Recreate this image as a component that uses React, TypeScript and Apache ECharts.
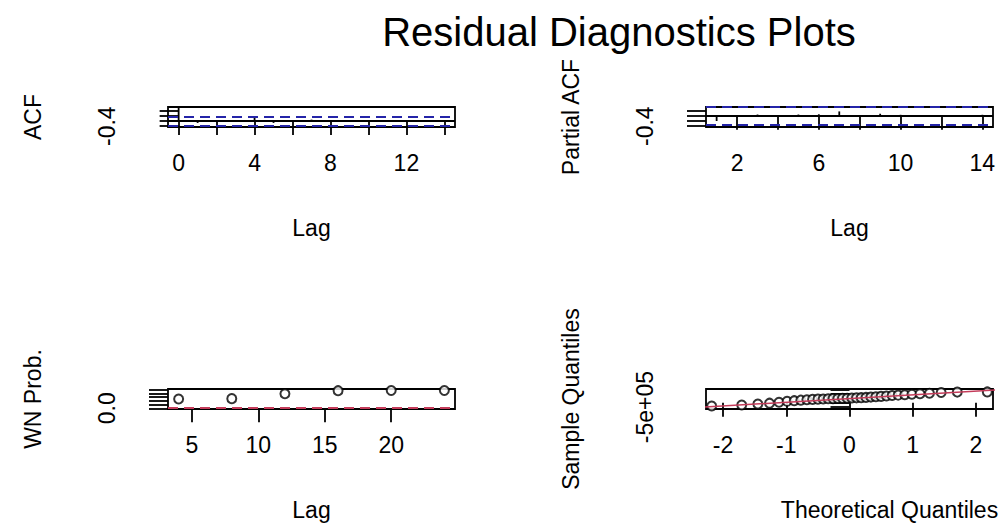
import { useEffect, useRef } from "react";
import * as echarts from "echarts";

// ---- ACF of residuals ----
const acfLags = [0, 1, 2, 3, 4, 5, 6, 7, 8, 9, 10, 11, 12, 13, 14];
const acfValues = [1, -0.15, -0.05, 0.03, 0.28, -0.15, 0.05, 0.1, 0.04, -0.03, 0.03, -0.02, 0.04, -0.03, 0.02];
const acfXTicks = [0, 2, 4, 6, 8, 10, 12, 14];
const acfXLabels = [0, 4, 8, 12];
const acfYTicks = [-0.4, 0, 0.4, 0.8];
const acfYLabels = [-0.4];
const acfXRange = [-0.56, 14.56];
const acfYRange = [-0.46, 1.06];

// ---- Partial ACF of residuals ----
const pacfLags = [1, 2, 3, 4, 5, 6, 7, 8, 9, 10, 11, 12, 13, 14];
const pacfValues = [-0.2, -0.05, 0.05, 0.02, 0.05, 0.06, 0.17, -0.03, 0.08, 0.04, -0.04, -0.02, -0.03, 0.04];
const pacfXTicks = [2, 4, 6, 8, 10, 12, 14];
const pacfXLabels = [2, 6, 10, 14];
const pacfYTicks = [-0.4, -0.2, 0, 0.2];
const pacfYLabels = [-0.4];
const pacfXRange = [0.48, 14.52];
const pacfYRange = [-0.43, 0.34];

// 95% white-noise band, 1.96 / sqrt(n)
const confidenceBound = 0.336;

// ---- Ljung-Box p-values ----
const lbLags = [4, 8, 12, 16, 20, 24];
const lbPValues = [0.5, 0.52, 0.78, 0.95, 0.96, 0.96];
const pValueThreshold = 0.05;
const lbXTicks = [5, 10, 15, 20];
const lbYTicks = [0, 0.2, 0.4, 0.6, 0.8, 1.0];
const lbYLabels = [0];
const lbXRange = [3.2, 24.8];
const lbYRange = [-0.04, 1.04];

// ---- Normal Q-Q ----
const theoreticalQuantiles = [
  -2.18, -1.705, -1.45, -1.265, -1.115, -0.987, -0.874, -0.77, -0.674, -0.584, -0.499, -0.417,
  -0.338, -0.261, -0.185, -0.111, -0.037, 0.037, 0.111, 0.185, 0.261, 0.338, 0.417, 0.499, 0.584,
  0.674, 0.77, 0.874, 0.987, 1.115, 1.265, 1.45, 1.705, 2.18,
];
const sampleQuantiles = [
  -380000, -260000, -150000, -50000, 60000, 160000, 240000, 300000, 350000, 390000, 420000, 440000,
  460000, 480000, 500000, 510000, 530000, 550000, 570000, 590000, 620000, 660000, 700000, 740000,
  790000, 840000, 890000, 940000, 990000, 1050000, 1110000, 1190000, 1240000, 1260000,
];
const qqLineIntercept = 490000;
const qqLineSlope = 436000;
const qqXTicks = [-2, -1, 0, 1, 2];
const qqYTicks = [-500000, 0, 500000, 1000000, 1500000];
const qqYLabels = [-500000];
const qqXRange = [-2.27, 2.27];
const qqYRange = [-730000, 1600000];

const FONT = "'Liberation Sans', Arial, sans-serif";
const BLUE = "#2424a8";
const RED = "#c43c5a";
const INK = "#000";
const LW = 1.8;

const panels = [
  { left: 168, top: 107 },
  { left: 706, top: 107 },
  { left: 168, top: 389 },
  { left: 706, top: 389 },
];

function fmtR(v: number): string {
  if (Math.abs(v) >= 100000) {
    const exp = Math.floor(Math.log10(Math.abs(v)));
    const mant = v / Math.pow(10, exp);
    return `${mant}e+${String(exp).padStart(2, "0")}`;
  }
  return v.toFixed(1);
}

function xAxisFor(idx: number, range: number[], ticks: number[], labels: number[], name: string, namePad = 0) {
  return {
    type: "value",
    gridIndex: idx,
    min: range[0],
    max: range[1],
    name,
    nameLocation: "middle",
    nameGap: 89,
    nameTextStyle: { fontFamily: FONT, fontSize: 23, color: INK, padding: [0, 0, 0, namePad] },
    axisLine: { show: false },
    splitLine: { show: false },
    axisTick: { show: true, length: 14, customValues: ticks, lineStyle: { color: INK, width: LW } },
    axisLabel: {
      customValues: labels,
      formatter: (v: number) => String(v),
      fontFamily: FONT,
      fontSize: 23,
      color: INK,
      margin: 24,
    },
  };
}

function yAxisFor(idx: number, range: number[], ticks: number[], labels: number[], name: string) {
  return {
    type: "value",
    gridIndex: idx,
    min: range[0],
    max: range[1],
    name,
    nameLocation: "middle",
    nameGap: 124,
    nameTextStyle: { fontFamily: FONT, fontSize: 23, color: INK },
    axisLine: { show: false },
    splitLine: { show: false },
    axisTick: { show: true, length: 19, customValues: ticks, lineStyle: { color: INK, width: LW } },
    axisLabel: {
      customValues: labels,
      formatter: (v: number) => fmtR(v),
      rotate: 90,
      fontFamily: FONT,
      fontSize: 23,
      color: INK,
      margin: 50,
    },
  };
}

function spikeSeries(idx: number, lags: number[], values: number[]) {
  return {
    type: "custom",
    xAxisIndex: idx,
    yAxisIndex: idx,
    clip: true,
    data: lags.map((l, i) => [l, values[i]]),
    renderItem: (_p: any, api: any) => {
      const x = api.value(0);
      const y = api.value(1);
      const a = api.coord([x, 0]);
      const b = api.coord([x, y]);
      return {
        type: "line",
        shape: { x1: a[0], y1: a[1], x2: b[0], y2: b[1] },
        style: { stroke: INK, lineWidth: LW },
      };
    },
    markLine: {
      silent: true,
      symbol: "none",
      label: { show: false },
      data: [
        { yAxis: 0, lineStyle: { color: INK, type: "solid", width: LW } },
        { yAxis: confidenceBound, lineStyle: { color: BLUE, type: [10, 6], width: LW } },
        { yAxis: -confidenceBound, lineStyle: { color: BLUE, type: [10, 6], width: LW } },
      ],
    },
  };
}

export default function App() {
  const ref = useRef<HTMLDivElement>(null);

  useEffect(() => {
    if (!ref.current) return;
    const chart = echarts.init(ref.current, null, { renderer: "svg" });
    const w = 287;
    const h = 20;

    chart.setOption({
      animation: false,
      backgroundColor: "#fff",
      textStyle: { fontFamily: FONT },
      grid: panels.map((p) => ({
        left: p.left,
        top: p.top,
        width: w,
        height: h,
        show: true,
        borderColor: INK,
        borderWidth: LW,
        backgroundColor: "transparent",
        containLabel: false,
      })),
      xAxis: [
        xAxisFor(0, acfXRange, acfXTicks, acfXLabels, "Lag"),
        xAxisFor(1, pacfXRange, pacfXTicks, pacfXLabels, "Lag"),
        xAxisFor(2, lbXRange, lbXTicks, lbXTicks, "Lag"),
        xAxisFor(3, qqXRange, qqXTicks, qqXTicks, "Theoretical Quantiles", 80),
      ],
      yAxis: [
        yAxisFor(0, acfYRange, acfYTicks, acfYLabels, "ACF"),
        yAxisFor(1, pacfYRange, pacfYTicks, pacfYLabels, "Partial ACF"),
        yAxisFor(2, lbYRange, lbYTicks, lbYLabels, "WN Prob."),
        yAxisFor(3, qqYRange, qqYTicks, qqYLabels, "Sample Quantiles"),
      ],
      graphic: [
        {
          type: "text",
          x: 619,
          y: 32,
          style: {
            text: "Residual Diagnostics Plots",
            font: `40px ${FONT}`,
            fill: INK,
            textAlign: "center",
            textVerticalAlign: "middle",
          },
        },
      ],
      series: [
        spikeSeries(0, acfLags, acfValues),
        spikeSeries(1, pacfLags, pacfValues),
        {
          type: "scatter",
          xAxisIndex: 2,
          yAxisIndex: 2,
          symbol: "emptyCircle",
          symbolSize: 9,
          itemStyle: { color: INK, borderColor: INK, borderWidth: 1.5 },
          data: lbLags.map((l, i) => [l, lbPValues[i]]),
          markLine: {
            silent: true,
            symbol: "none",
            label: { show: false },
            data: [{ yAxis: pValueThreshold, lineStyle: { color: RED, type: [10, 6], width: LW } }],
          },
        },
        {
          type: "line",
          xAxisIndex: 3,
          yAxisIndex: 3,
          showSymbol: false,
          clip: true,
          lineStyle: { color: RED, width: 1.5 },
          data: [-3, 3].map((q) => [q, qqLineIntercept + qqLineSlope * q]),
        },
        {
          type: "scatter",
          xAxisIndex: 3,
          yAxisIndex: 3,
          symbol: "emptyCircle",
          symbolSize: 9,
          itemStyle: { color: INK, borderColor: INK, borderWidth: 1.3 },
          data: theoreticalQuantiles.map((q, i) => [q, sampleQuantiles[i]]),
        },
      ],
    });

    return () => chart.dispose();
  }, []);

  return (
    <div
      ref={ref}
      style={{ position: "absolute", left: 0, top: 0, width: 1007, height: 525, background: "#fff" }}
    />
  );
}
